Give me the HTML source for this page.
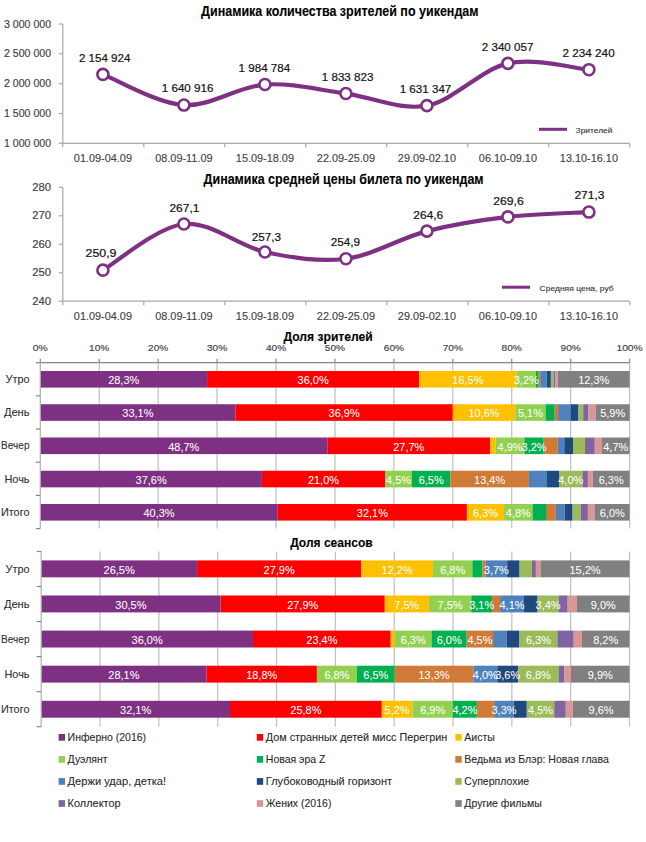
<!DOCTYPE html>
<html><head><meta charset="utf-8"><style>
html,body{margin:0;padding:0;background:#fff;}
body{width:646px;height:842px;overflow:hidden;}
svg{display:block;font-family:"Liberation Sans",sans-serif;}
</style></head><body>
<svg width="646" height="842" viewBox="0 0 646 842">
<rect width="646" height="842" fill="#FFFFFF"/>
<text x="339.80" y="16.10" font-size="14.0" text-anchor="middle" fill="#000000" font-weight="bold" textLength="277.5" lengthAdjust="spacingAndGlyphs" stroke="#000000" stroke-width="0.1">Динамика количества зрителей по уикендам</text>
<line x1="62.8" y1="24.0" x2="62.8" y2="143.3" stroke="#A8A8A8" stroke-width="1.2"/>
<line x1="58.8" y1="24.00" x2="62.8" y2="24.00" stroke="#A8A8A8" stroke-width="1.2"/>
<text x="51.00" y="27.50" font-size="10.1" text-anchor="end" fill="#404040" textLength="46.92" lengthAdjust="spacingAndGlyphs" stroke="#404040" stroke-width="0.15">3 000 000</text>
<line x1="58.8" y1="53.83" x2="62.8" y2="53.83" stroke="#A8A8A8" stroke-width="1.2"/>
<text x="51.00" y="57.33" font-size="10.1" text-anchor="end" fill="#404040" textLength="46.92" lengthAdjust="spacingAndGlyphs" stroke="#404040" stroke-width="0.15">2 500 000</text>
<line x1="58.8" y1="83.65" x2="62.8" y2="83.65" stroke="#A8A8A8" stroke-width="1.2"/>
<text x="51.00" y="87.15" font-size="10.1" text-anchor="end" fill="#404040" textLength="46.92" lengthAdjust="spacingAndGlyphs" stroke="#404040" stroke-width="0.15">2 000 000</text>
<line x1="58.8" y1="113.48" x2="62.8" y2="113.48" stroke="#A8A8A8" stroke-width="1.2"/>
<text x="51.00" y="116.98" font-size="10.1" text-anchor="end" fill="#404040" textLength="46.92" lengthAdjust="spacingAndGlyphs" stroke="#404040" stroke-width="0.15">1 500 000</text>
<line x1="58.8" y1="143.30" x2="62.8" y2="143.30" stroke="#A8A8A8" stroke-width="1.2"/>
<text x="51.00" y="146.80" font-size="10.1" text-anchor="end" fill="#404040" textLength="46.92" lengthAdjust="spacingAndGlyphs" stroke="#404040" stroke-width="0.15">1 000 000</text>
<line x1="62.8" y1="143.3" x2="629.8" y2="143.3" stroke="#A8A8A8" stroke-width="1.2"/>
<line x1="62.80" y1="143.3" x2="62.80" y2="147.3" stroke="#A8A8A8" stroke-width="1.2"/>
<line x1="143.80" y1="143.3" x2="143.80" y2="147.3" stroke="#A8A8A8" stroke-width="1.2"/>
<line x1="224.80" y1="143.3" x2="224.80" y2="147.3" stroke="#A8A8A8" stroke-width="1.2"/>
<line x1="305.80" y1="143.3" x2="305.80" y2="147.3" stroke="#A8A8A8" stroke-width="1.2"/>
<line x1="386.80" y1="143.3" x2="386.80" y2="147.3" stroke="#A8A8A8" stroke-width="1.2"/>
<line x1="467.80" y1="143.3" x2="467.80" y2="147.3" stroke="#A8A8A8" stroke-width="1.2"/>
<line x1="548.80" y1="143.3" x2="548.80" y2="147.3" stroke="#A8A8A8" stroke-width="1.2"/>
<line x1="629.80" y1="143.3" x2="629.80" y2="147.3" stroke="#A8A8A8" stroke-width="1.2"/>
<text x="102.90" y="162.10" font-size="10.9" text-anchor="middle" fill="#404040" stroke="#404040" stroke-width="0.12">01.09-04.09</text>
<text x="183.90" y="162.10" font-size="10.9" text-anchor="middle" fill="#404040" stroke="#404040" stroke-width="0.12">08.09-11.09</text>
<text x="264.90" y="162.10" font-size="10.9" text-anchor="middle" fill="#404040" stroke="#404040" stroke-width="0.12">15.09-18.09</text>
<text x="345.90" y="162.10" font-size="10.9" text-anchor="middle" fill="#404040" stroke="#404040" stroke-width="0.12">22.09-25.09</text>
<text x="426.90" y="162.10" font-size="10.9" text-anchor="middle" fill="#404040" stroke="#404040" stroke-width="0.12">29.09-02.10</text>
<text x="507.90" y="162.10" font-size="10.9" text-anchor="middle" fill="#404040" stroke="#404040" stroke-width="0.12">06.10-09.10</text>
<text x="588.90" y="162.10" font-size="10.9" text-anchor="middle" fill="#404040" stroke="#404040" stroke-width="0.12">13.10-16.10</text>
<path d="M102.90,74.41 C116.40,79.52 156.90,103.38 183.90,105.07 C210.90,106.76 237.90,86.48 264.90,84.56 C291.90,82.64 318.90,90.05 345.90,93.56 C372.90,97.08 399.90,110.67 426.90,105.64 C453.90,100.61 480.90,69.36 507.90,63.37 C534.90,57.37 575.40,68.63 588.90,69.68" fill="none" stroke="#7E3182" stroke-width="4.2" stroke-linecap="round"/>
<circle cx="102.90" cy="74.41" r="5.5" fill="#FFFFFF" stroke="#7E3182" stroke-width="2.6"/>
<circle cx="183.90" cy="105.07" r="5.5" fill="#FFFFFF" stroke="#7E3182" stroke-width="2.6"/>
<circle cx="264.90" cy="84.56" r="5.5" fill="#FFFFFF" stroke="#7E3182" stroke-width="2.6"/>
<circle cx="345.90" cy="93.56" r="5.5" fill="#FFFFFF" stroke="#7E3182" stroke-width="2.6"/>
<circle cx="426.90" cy="105.64" r="5.5" fill="#FFFFFF" stroke="#7E3182" stroke-width="2.6"/>
<circle cx="507.90" cy="63.37" r="5.5" fill="#FFFFFF" stroke="#7E3182" stroke-width="2.6"/>
<circle cx="588.90" cy="69.68" r="5.5" fill="#FFFFFF" stroke="#7E3182" stroke-width="2.6"/>
<text x="104.65" y="61.90" font-size="11.7" text-anchor="middle" fill="#111111" textLength="51.5" lengthAdjust="spacingAndGlyphs" stroke="#111111" stroke-width="0.2">2 154 924</text>
<text x="187.60" y="91.80" font-size="11.7" text-anchor="middle" fill="#111111" textLength="51.7" lengthAdjust="spacingAndGlyphs" stroke="#111111" stroke-width="0.2">1 640 916</text>
<text x="264.40" y="71.80" font-size="11.7" text-anchor="middle" fill="#111111" textLength="51.6" lengthAdjust="spacingAndGlyphs" stroke="#111111" stroke-width="0.2">1 984 784</text>
<text x="347.60" y="80.70" font-size="11.7" text-anchor="middle" fill="#111111" textLength="51.5" lengthAdjust="spacingAndGlyphs" stroke="#111111" stroke-width="0.2">1 833 823</text>
<text x="425.50" y="92.90" font-size="11.7" text-anchor="middle" fill="#111111" textLength="51.6" lengthAdjust="spacingAndGlyphs" stroke="#111111" stroke-width="0.2">1 631 347</text>
<text x="507.60" y="50.70" font-size="11.7" text-anchor="middle" fill="#111111" textLength="51.5" lengthAdjust="spacingAndGlyphs" stroke="#111111" stroke-width="0.2">2 340 057</text>
<text x="588.60" y="56.80" font-size="11.7" text-anchor="middle" fill="#111111" textLength="52.1" lengthAdjust="spacingAndGlyphs" stroke="#111111" stroke-width="0.2">2 234 240</text>
<line x1="539" y1="129.3" x2="567" y2="129.3" stroke="#7E3182" stroke-width="3.0"/>
<text x="575.60" y="132.90" font-size="7.8" text-anchor="start" fill="#333333" textLength="36.8" lengthAdjust="spacingAndGlyphs" stroke="#333333" stroke-width="0.12">Зрителей</text>
<text x="343.60" y="184.10" font-size="14.0" text-anchor="middle" fill="#000000" font-weight="bold" textLength="280" lengthAdjust="spacingAndGlyphs" stroke="#000000" stroke-width="0.1">Динамика средней цены билета по уикендам</text>
<line x1="62.8" y1="187.3" x2="62.8" y2="301.2" stroke="#A8A8A8" stroke-width="1.2"/>
<line x1="58.8" y1="187.30" x2="62.8" y2="187.30" stroke="#A8A8A8" stroke-width="1.2"/>
<text x="51.00" y="190.80" font-size="10.1" text-anchor="end" fill="#404040" textLength="18.85" lengthAdjust="spacingAndGlyphs" stroke="#404040" stroke-width="0.15">280</text>
<line x1="58.8" y1="215.78" x2="62.8" y2="215.78" stroke="#A8A8A8" stroke-width="1.2"/>
<text x="51.00" y="219.28" font-size="10.1" text-anchor="end" fill="#404040" textLength="18.85" lengthAdjust="spacingAndGlyphs" stroke="#404040" stroke-width="0.15">270</text>
<line x1="58.8" y1="244.25" x2="62.8" y2="244.25" stroke="#A8A8A8" stroke-width="1.2"/>
<text x="51.00" y="247.75" font-size="10.1" text-anchor="end" fill="#404040" textLength="18.85" lengthAdjust="spacingAndGlyphs" stroke="#404040" stroke-width="0.15">260</text>
<line x1="58.8" y1="272.73" x2="62.8" y2="272.73" stroke="#A8A8A8" stroke-width="1.2"/>
<text x="51.00" y="276.23" font-size="10.1" text-anchor="end" fill="#404040" textLength="18.85" lengthAdjust="spacingAndGlyphs" stroke="#404040" stroke-width="0.15">250</text>
<line x1="58.8" y1="301.20" x2="62.8" y2="301.20" stroke="#A8A8A8" stroke-width="1.2"/>
<text x="51.00" y="304.70" font-size="10.1" text-anchor="end" fill="#404040" textLength="18.85" lengthAdjust="spacingAndGlyphs" stroke="#404040" stroke-width="0.15">240</text>
<line x1="62.8" y1="301.2" x2="629.8" y2="301.2" stroke="#A8A8A8" stroke-width="1.2"/>
<line x1="62.80" y1="301.2" x2="62.80" y2="305.2" stroke="#A8A8A8" stroke-width="1.2"/>
<line x1="143.80" y1="301.2" x2="143.80" y2="305.2" stroke="#A8A8A8" stroke-width="1.2"/>
<line x1="224.80" y1="301.2" x2="224.80" y2="305.2" stroke="#A8A8A8" stroke-width="1.2"/>
<line x1="305.80" y1="301.2" x2="305.80" y2="305.2" stroke="#A8A8A8" stroke-width="1.2"/>
<line x1="386.80" y1="301.2" x2="386.80" y2="305.2" stroke="#A8A8A8" stroke-width="1.2"/>
<line x1="467.80" y1="301.2" x2="467.80" y2="305.2" stroke="#A8A8A8" stroke-width="1.2"/>
<line x1="548.80" y1="301.2" x2="548.80" y2="305.2" stroke="#A8A8A8" stroke-width="1.2"/>
<line x1="629.80" y1="301.2" x2="629.80" y2="305.2" stroke="#A8A8A8" stroke-width="1.2"/>
<text x="102.90" y="320.00" font-size="10.9" text-anchor="middle" fill="#404040" stroke="#404040" stroke-width="0.12">01.09-04.09</text>
<text x="183.90" y="320.00" font-size="10.9" text-anchor="middle" fill="#404040" stroke="#404040" stroke-width="0.12">08.09-11.09</text>
<text x="264.90" y="320.00" font-size="10.9" text-anchor="middle" fill="#404040" stroke="#404040" stroke-width="0.12">15.09-18.09</text>
<text x="345.90" y="320.00" font-size="10.9" text-anchor="middle" fill="#404040" stroke="#404040" stroke-width="0.12">22.09-25.09</text>
<text x="426.90" y="320.00" font-size="10.9" text-anchor="middle" fill="#404040" stroke="#404040" stroke-width="0.12">29.09-02.10</text>
<text x="507.90" y="320.00" font-size="10.9" text-anchor="middle" fill="#404040" stroke="#404040" stroke-width="0.12">06.10-09.10</text>
<text x="588.90" y="320.00" font-size="10.9" text-anchor="middle" fill="#404040" stroke="#404040" stroke-width="0.12">13.10-16.10</text>
<path d="M102.90,270.16 C116.40,262.47 156.90,227.07 183.90,224.03 C210.90,221.00 237.90,246.15 264.90,251.94 C291.90,257.73 318.90,262.24 345.90,258.77 C372.90,255.31 399.90,238.13 426.90,231.15 C453.90,224.18 480.90,220.09 507.90,216.91 C534.90,213.73 575.40,212.88 588.90,212.07" fill="none" stroke="#7E3182" stroke-width="4.2" stroke-linecap="round"/>
<circle cx="102.90" cy="270.16" r="5.5" fill="#FFFFFF" stroke="#7E3182" stroke-width="2.6"/>
<circle cx="183.90" cy="224.03" r="5.5" fill="#FFFFFF" stroke="#7E3182" stroke-width="2.6"/>
<circle cx="264.90" cy="251.94" r="5.5" fill="#FFFFFF" stroke="#7E3182" stroke-width="2.6"/>
<circle cx="345.90" cy="258.77" r="5.5" fill="#FFFFFF" stroke="#7E3182" stroke-width="2.6"/>
<circle cx="426.90" cy="231.15" r="5.5" fill="#FFFFFF" stroke="#7E3182" stroke-width="2.6"/>
<circle cx="507.90" cy="216.91" r="5.5" fill="#FFFFFF" stroke="#7E3182" stroke-width="2.6"/>
<circle cx="588.90" cy="212.07" r="5.5" fill="#FFFFFF" stroke="#7E3182" stroke-width="2.6"/>
<text x="101.00" y="257.20" font-size="11.7" text-anchor="middle" fill="#111111" textLength="31.0" lengthAdjust="spacingAndGlyphs" stroke="#111111" stroke-width="0.2">250,9</text>
<text x="184.40" y="211.70" font-size="11.7" text-anchor="middle" fill="#111111" textLength="30.0" lengthAdjust="spacingAndGlyphs" stroke="#111111" stroke-width="0.2">267,1</text>
<text x="266.40" y="240.60" font-size="11.7" text-anchor="middle" fill="#111111" textLength="29.4" lengthAdjust="spacingAndGlyphs" stroke="#111111" stroke-width="0.2">257,3</text>
<text x="345.30" y="245.80" font-size="11.7" text-anchor="middle" fill="#111111" textLength="29.3" lengthAdjust="spacingAndGlyphs" stroke="#111111" stroke-width="0.2">254,9</text>
<text x="428.30" y="219.00" font-size="11.7" text-anchor="middle" fill="#111111" textLength="29.9" lengthAdjust="spacingAndGlyphs" stroke="#111111" stroke-width="0.2">264,6</text>
<text x="508.50" y="205.00" font-size="11.7" text-anchor="middle" fill="#111111" textLength="30.5" lengthAdjust="spacingAndGlyphs" stroke="#111111" stroke-width="0.2">269,6</text>
<text x="589.40" y="198.60" font-size="11.7" text-anchor="middle" fill="#111111" textLength="30.0" lengthAdjust="spacingAndGlyphs" stroke="#111111" stroke-width="0.2">271,3</text>
<line x1="502" y1="287.2" x2="530" y2="287.2" stroke="#7E3182" stroke-width="3.0"/>
<text x="539.60" y="290.80" font-size="7.8" text-anchor="start" fill="#333333" textLength="74" lengthAdjust="spacingAndGlyphs" stroke="#333333" stroke-width="0.12">Средняя цена, руб</text>
<line x1="99.23" y1="362.7" x2="99.23" y2="528.6" stroke="#BFBFBF" stroke-width="1.2"/>
<line x1="158.16" y1="362.7" x2="158.16" y2="528.6" stroke="#BFBFBF" stroke-width="1.2"/>
<line x1="217.09" y1="362.7" x2="217.09" y2="528.6" stroke="#BFBFBF" stroke-width="1.2"/>
<line x1="276.02" y1="362.7" x2="276.02" y2="528.6" stroke="#BFBFBF" stroke-width="1.2"/>
<line x1="334.95" y1="362.7" x2="334.95" y2="528.6" stroke="#BFBFBF" stroke-width="1.2"/>
<line x1="393.88" y1="362.7" x2="393.88" y2="528.6" stroke="#BFBFBF" stroke-width="1.2"/>
<line x1="452.81" y1="362.7" x2="452.81" y2="528.6" stroke="#BFBFBF" stroke-width="1.2"/>
<line x1="511.74" y1="362.7" x2="511.74" y2="528.6" stroke="#BFBFBF" stroke-width="1.2"/>
<line x1="570.67" y1="362.7" x2="570.67" y2="528.6" stroke="#BFBFBF" stroke-width="1.2"/>
<line x1="629.60" y1="362.7" x2="629.60" y2="528.6" stroke="#BFBFBF" stroke-width="1.2"/>
<rect x="40.30" y="371.00" width="166.80" height="16.6" fill="#7E3182"/>
<rect x="207.10" y="371.00" width="212.10" height="16.6" fill="#FF0000"/>
<rect x="419.20" y="371.00" width="97.30" height="16.6" fill="#FFC000"/>
<rect x="516.50" y="371.00" width="19.50" height="16.6" fill="#92D050"/>
<rect x="536.00" y="371.00" width="2.60" height="16.6" fill="#00B050"/>
<rect x="538.60" y="371.00" width="1.60" height="16.6" fill="#D07A38"/>
<rect x="540.20" y="371.00" width="6.50" height="16.6" fill="#4F81BD"/>
<rect x="546.70" y="371.00" width="4.20" height="16.6" fill="#1F497D"/>
<rect x="550.90" y="371.00" width="2.70" height="16.6" fill="#9BBB59"/>
<rect x="553.60" y="371.00" width="1.90" height="16.6" fill="#8064A2"/>
<rect x="555.50" y="371.00" width="2.30" height="16.6" fill="#DA9694"/>
<rect x="557.80" y="371.00" width="71.80" height="16.6" fill="#808080"/>
<text x="123.70" y="384.20" font-size="10.4" text-anchor="middle" fill="#FFFFFF" textLength="31.11" lengthAdjust="spacingAndGlyphs" stroke="#FFFFFF" stroke-width="0.05">28,3%</text>
<text x="313.15" y="384.20" font-size="10.4" text-anchor="middle" fill="#FFFFFF" textLength="31.11" lengthAdjust="spacingAndGlyphs" stroke="#FFFFFF" stroke-width="0.05">36,0%</text>
<text x="467.85" y="384.20" font-size="10.4" text-anchor="middle" fill="#FFFFFF" textLength="31.11" lengthAdjust="spacingAndGlyphs" stroke="#FFFFFF" stroke-width="0.05">16,5%</text>
<text x="526.25" y="384.20" font-size="10.4" text-anchor="middle" fill="#FFFFFF" textLength="25.01" lengthAdjust="spacingAndGlyphs" stroke="#FFFFFF" stroke-width="0.05">3,2%</text>
<text x="593.70" y="384.20" font-size="10.4" text-anchor="middle" fill="#FFFFFF" textLength="31.11" lengthAdjust="spacingAndGlyphs" stroke="#FFFFFF" stroke-width="0.05">12,3%</text>
<rect x="40.30" y="404.25" width="195.10" height="16.6" fill="#7E3182"/>
<rect x="235.40" y="404.25" width="217.40" height="16.6" fill="#FF0000"/>
<rect x="452.80" y="404.25" width="62.50" height="16.6" fill="#FFC000"/>
<rect x="515.30" y="404.25" width="30.30" height="16.6" fill="#92D050"/>
<rect x="545.60" y="404.25" width="9.10" height="16.6" fill="#00B050"/>
<rect x="554.70" y="404.25" width="3.40" height="16.6" fill="#D07A38"/>
<rect x="558.10" y="404.25" width="12.50" height="16.6" fill="#4F81BD"/>
<rect x="570.60" y="404.25" width="7.90" height="16.6" fill="#1F497D"/>
<rect x="578.50" y="404.25" width="4.70" height="16.6" fill="#9BBB59"/>
<rect x="583.20" y="404.25" width="5.30" height="16.6" fill="#8064A2"/>
<rect x="588.50" y="404.25" width="7.20" height="16.6" fill="#DA9694"/>
<rect x="595.70" y="404.25" width="33.90" height="16.6" fill="#808080"/>
<text x="137.85" y="417.45" font-size="10.4" text-anchor="middle" fill="#FFFFFF" textLength="31.11" lengthAdjust="spacingAndGlyphs" stroke="#FFFFFF" stroke-width="0.05">33,1%</text>
<text x="344.10" y="417.45" font-size="10.4" text-anchor="middle" fill="#FFFFFF" textLength="31.11" lengthAdjust="spacingAndGlyphs" stroke="#FFFFFF" stroke-width="0.05">36,9%</text>
<text x="484.05" y="417.45" font-size="10.4" text-anchor="middle" fill="#FFFFFF" textLength="31.11" lengthAdjust="spacingAndGlyphs" stroke="#FFFFFF" stroke-width="0.05">10,6%</text>
<text x="530.45" y="417.45" font-size="10.4" text-anchor="middle" fill="#FFFFFF" textLength="25.01" lengthAdjust="spacingAndGlyphs" stroke="#FFFFFF" stroke-width="0.05">5,1%</text>
<text x="612.65" y="417.45" font-size="10.4" text-anchor="middle" fill="#FFFFFF" textLength="25.01" lengthAdjust="spacingAndGlyphs" stroke="#FFFFFF" stroke-width="0.05">5,9%</text>
<rect x="40.30" y="437.50" width="287.00" height="16.6" fill="#7E3182"/>
<rect x="327.30" y="437.50" width="162.90" height="16.6" fill="#FF0000"/>
<rect x="490.20" y="437.50" width="5.60" height="16.6" fill="#FFC000"/>
<rect x="495.80" y="437.50" width="28.60" height="16.6" fill="#92D050"/>
<rect x="524.40" y="437.50" width="19.30" height="16.6" fill="#00B050"/>
<rect x="543.70" y="437.50" width="14.10" height="16.6" fill="#D07A38"/>
<rect x="557.80" y="437.50" width="6.50" height="16.6" fill="#4F81BD"/>
<rect x="564.30" y="437.50" width="8.70" height="16.6" fill="#1F497D"/>
<rect x="573.00" y="437.50" width="12.00" height="16.6" fill="#9BBB59"/>
<rect x="585.00" y="437.50" width="9.80" height="16.6" fill="#8064A2"/>
<rect x="594.80" y="437.50" width="7.10" height="16.6" fill="#DA9694"/>
<rect x="601.90" y="437.50" width="27.70" height="16.6" fill="#808080"/>
<text x="183.80" y="450.70" font-size="10.4" text-anchor="middle" fill="#FFFFFF" textLength="31.11" lengthAdjust="spacingAndGlyphs" stroke="#FFFFFF" stroke-width="0.05">48,7%</text>
<text x="408.75" y="450.70" font-size="10.4" text-anchor="middle" fill="#FFFFFF" textLength="31.11" lengthAdjust="spacingAndGlyphs" stroke="#FFFFFF" stroke-width="0.05">27,7%</text>
<text x="510.10" y="450.70" font-size="10.4" text-anchor="middle" fill="#FFFFFF" textLength="25.01" lengthAdjust="spacingAndGlyphs" stroke="#FFFFFF" stroke-width="0.05">4,9%</text>
<text x="534.05" y="450.70" font-size="10.4" text-anchor="middle" fill="#FFFFFF" textLength="25.01" lengthAdjust="spacingAndGlyphs" stroke="#FFFFFF" stroke-width="0.05">3,2%</text>
<text x="615.75" y="450.70" font-size="10.4" text-anchor="middle" fill="#FFFFFF" textLength="25.01" lengthAdjust="spacingAndGlyphs" stroke="#FFFFFF" stroke-width="0.05">4,7%</text>
<rect x="40.30" y="470.75" width="221.60" height="16.6" fill="#7E3182"/>
<rect x="261.90" y="470.75" width="123.10" height="16.6" fill="#FF0000"/>
<rect x="385.00" y="470.75" width="27.00" height="16.6" fill="#92D050"/>
<rect x="412.00" y="470.75" width="38.30" height="16.6" fill="#00B050"/>
<rect x="450.30" y="470.75" width="78.60" height="16.6" fill="#D07A38"/>
<rect x="528.90" y="470.75" width="18.10" height="16.6" fill="#4F81BD"/>
<rect x="547.00" y="470.75" width="12.00" height="16.6" fill="#1F497D"/>
<rect x="559.00" y="470.75" width="23.50" height="16.6" fill="#9BBB59"/>
<rect x="582.50" y="470.75" width="5.40" height="16.6" fill="#8064A2"/>
<rect x="587.90" y="470.75" width="4.90" height="16.6" fill="#DA9694"/>
<rect x="592.80" y="470.75" width="36.80" height="16.6" fill="#808080"/>
<text x="151.10" y="483.95" font-size="10.4" text-anchor="middle" fill="#FFFFFF" textLength="31.11" lengthAdjust="spacingAndGlyphs" stroke="#FFFFFF" stroke-width="0.05">37,6%</text>
<text x="323.45" y="483.95" font-size="10.4" text-anchor="middle" fill="#FFFFFF" textLength="31.11" lengthAdjust="spacingAndGlyphs" stroke="#FFFFFF" stroke-width="0.05">21,0%</text>
<text x="398.50" y="483.95" font-size="10.4" text-anchor="middle" fill="#FFFFFF" textLength="25.01" lengthAdjust="spacingAndGlyphs" stroke="#FFFFFF" stroke-width="0.05">4,5%</text>
<text x="431.15" y="483.95" font-size="10.4" text-anchor="middle" fill="#FFFFFF" textLength="25.01" lengthAdjust="spacingAndGlyphs" stroke="#FFFFFF" stroke-width="0.05">6,5%</text>
<text x="489.60" y="483.95" font-size="10.4" text-anchor="middle" fill="#FFFFFF" textLength="31.11" lengthAdjust="spacingAndGlyphs" stroke="#FFFFFF" stroke-width="0.05">13,4%</text>
<text x="570.75" y="483.95" font-size="10.4" text-anchor="middle" fill="#FFFFFF" textLength="25.01" lengthAdjust="spacingAndGlyphs" stroke="#FFFFFF" stroke-width="0.05">4,0%</text>
<text x="611.20" y="483.95" font-size="10.4" text-anchor="middle" fill="#FFFFFF" textLength="25.01" lengthAdjust="spacingAndGlyphs" stroke="#FFFFFF" stroke-width="0.05">6,3%</text>
<rect x="40.30" y="504.00" width="237.50" height="16.6" fill="#7E3182"/>
<rect x="277.80" y="504.00" width="189.10" height="16.6" fill="#FF0000"/>
<rect x="466.90" y="504.00" width="37.20" height="16.6" fill="#FFC000"/>
<rect x="504.10" y="504.00" width="28.50" height="16.6" fill="#92D050"/>
<rect x="532.60" y="504.00" width="13.40" height="16.6" fill="#00B050"/>
<rect x="546.00" y="504.00" width="9.90" height="16.6" fill="#D07A38"/>
<rect x="555.90" y="504.00" width="8.90" height="16.6" fill="#4F81BD"/>
<rect x="564.80" y="504.00" width="7.80" height="16.6" fill="#1F497D"/>
<rect x="572.60" y="504.00" width="8.30" height="16.6" fill="#9BBB59"/>
<rect x="580.90" y="504.00" width="7.00" height="16.6" fill="#8064A2"/>
<rect x="587.90" y="504.00" width="7.00" height="16.6" fill="#DA9694"/>
<rect x="594.90" y="504.00" width="34.70" height="16.6" fill="#808080"/>
<text x="159.05" y="517.20" font-size="10.4" text-anchor="middle" fill="#FFFFFF" textLength="31.11" lengthAdjust="spacingAndGlyphs" stroke="#FFFFFF" stroke-width="0.05">40,3%</text>
<text x="372.35" y="517.20" font-size="10.4" text-anchor="middle" fill="#FFFFFF" textLength="31.11" lengthAdjust="spacingAndGlyphs" stroke="#FFFFFF" stroke-width="0.05">32,1%</text>
<text x="485.50" y="517.20" font-size="10.4" text-anchor="middle" fill="#FFFFFF" textLength="25.01" lengthAdjust="spacingAndGlyphs" stroke="#FFFFFF" stroke-width="0.05">6,3%</text>
<text x="518.35" y="517.20" font-size="10.4" text-anchor="middle" fill="#FFFFFF" textLength="25.01" lengthAdjust="spacingAndGlyphs" stroke="#FFFFFF" stroke-width="0.05">4,8%</text>
<text x="612.25" y="517.20" font-size="10.4" text-anchor="middle" fill="#FFFFFF" textLength="25.01" lengthAdjust="spacingAndGlyphs" stroke="#FFFFFF" stroke-width="0.05">6,0%</text>
<line x1="40.3" y1="362.7" x2="40.3" y2="528.6" stroke="#B0B0B0" stroke-width="1.2"/>
<line x1="35.8" y1="362.70" x2="40.3" y2="362.70" stroke="#868686" stroke-width="1.2"/>
<line x1="35.8" y1="395.88" x2="40.3" y2="395.88" stroke="#868686" stroke-width="1.2"/>
<line x1="35.8" y1="429.06" x2="40.3" y2="429.06" stroke="#868686" stroke-width="1.2"/>
<line x1="35.8" y1="462.24" x2="40.3" y2="462.24" stroke="#868686" stroke-width="1.2"/>
<line x1="35.8" y1="495.42" x2="40.3" y2="495.42" stroke="#868686" stroke-width="1.2"/>
<line x1="35.8" y1="528.60" x2="40.3" y2="528.60" stroke="#868686" stroke-width="1.2"/>
<text x="29.50" y="383.09" font-size="10.9" text-anchor="end" fill="#303030" stroke="#303030" stroke-width="0.1">Утро</text>
<text x="29.50" y="416.27" font-size="10.9" text-anchor="end" fill="#303030" textLength="25.6" lengthAdjust="spacingAndGlyphs" stroke="#303030" stroke-width="0.1">День</text>
<text x="29.50" y="449.45" font-size="10.9" text-anchor="end" fill="#303030" textLength="28.4" lengthAdjust="spacingAndGlyphs" stroke="#303030" stroke-width="0.1">Вечер</text>
<text x="29.50" y="482.63" font-size="10.9" text-anchor="end" fill="#303030" stroke="#303030" stroke-width="0.1">Ночь</text>
<text x="29.50" y="515.81" font-size="10.9" text-anchor="end" fill="#303030" textLength="28.6" lengthAdjust="spacingAndGlyphs" stroke="#303030" stroke-width="0.1">Итого</text>
<line x1="40.3" y1="362.7" x2="629.6" y2="362.7" stroke="#868686" stroke-width="1.2"/>
<line x1="40.30" y1="358.7" x2="40.30" y2="362.7" stroke="#868686" stroke-width="1.2"/>
<text x="40.30" y="351.00" font-size="9.6" text-anchor="middle" fill="#404040" textLength="14.9" lengthAdjust="spacingAndGlyphs" stroke="#404040" stroke-width="0.15">0%</text>
<line x1="99.23" y1="358.7" x2="99.23" y2="362.7" stroke="#868686" stroke-width="1.2"/>
<text x="99.23" y="351.00" font-size="9.6" text-anchor="middle" fill="#404040" textLength="20.2" lengthAdjust="spacingAndGlyphs" stroke="#404040" stroke-width="0.15">10%</text>
<line x1="158.16" y1="358.7" x2="158.16" y2="362.7" stroke="#868686" stroke-width="1.2"/>
<text x="158.16" y="351.00" font-size="9.6" text-anchor="middle" fill="#404040" textLength="20.2" lengthAdjust="spacingAndGlyphs" stroke="#404040" stroke-width="0.15">20%</text>
<line x1="217.09" y1="358.7" x2="217.09" y2="362.7" stroke="#868686" stroke-width="1.2"/>
<text x="217.09" y="351.00" font-size="9.6" text-anchor="middle" fill="#404040" textLength="20.2" lengthAdjust="spacingAndGlyphs" stroke="#404040" stroke-width="0.15">30%</text>
<line x1="276.02" y1="358.7" x2="276.02" y2="362.7" stroke="#868686" stroke-width="1.2"/>
<text x="276.02" y="351.00" font-size="9.6" text-anchor="middle" fill="#404040" textLength="20.2" lengthAdjust="spacingAndGlyphs" stroke="#404040" stroke-width="0.15">40%</text>
<line x1="334.95" y1="358.7" x2="334.95" y2="362.7" stroke="#868686" stroke-width="1.2"/>
<text x="334.95" y="351.00" font-size="9.6" text-anchor="middle" fill="#404040" textLength="20.2" lengthAdjust="spacingAndGlyphs" stroke="#404040" stroke-width="0.15">50%</text>
<line x1="393.88" y1="358.7" x2="393.88" y2="362.7" stroke="#868686" stroke-width="1.2"/>
<text x="393.88" y="351.00" font-size="9.6" text-anchor="middle" fill="#404040" textLength="20.2" lengthAdjust="spacingAndGlyphs" stroke="#404040" stroke-width="0.15">60%</text>
<line x1="452.81" y1="358.7" x2="452.81" y2="362.7" stroke="#868686" stroke-width="1.2"/>
<text x="452.81" y="351.00" font-size="9.6" text-anchor="middle" fill="#404040" textLength="20.2" lengthAdjust="spacingAndGlyphs" stroke="#404040" stroke-width="0.15">70%</text>
<line x1="511.74" y1="358.7" x2="511.74" y2="362.7" stroke="#868686" stroke-width="1.2"/>
<text x="511.74" y="351.00" font-size="9.6" text-anchor="middle" fill="#404040" textLength="20.2" lengthAdjust="spacingAndGlyphs" stroke="#404040" stroke-width="0.15">80%</text>
<line x1="570.67" y1="358.7" x2="570.67" y2="362.7" stroke="#868686" stroke-width="1.2"/>
<text x="570.67" y="351.00" font-size="9.6" text-anchor="middle" fill="#404040" textLength="20.2" lengthAdjust="spacingAndGlyphs" stroke="#404040" stroke-width="0.15">90%</text>
<line x1="629.60" y1="358.7" x2="629.60" y2="362.7" stroke="#868686" stroke-width="1.2"/>
<text x="629.60" y="351.00" font-size="9.6" text-anchor="middle" fill="#404040" textLength="26.3" lengthAdjust="spacingAndGlyphs" stroke="#404040" stroke-width="0.15">100%</text>
<text x="328.10" y="340.80" font-size="12.8" text-anchor="middle" fill="#000000" font-weight="bold" textLength="89.4" lengthAdjust="spacingAndGlyphs" stroke="#000000" stroke-width="0.1">Доля зрителей</text>
<line x1="100.03" y1="551.5" x2="100.03" y2="726.7" stroke="#BFBFBF" stroke-width="1.2"/>
<line x1="158.86" y1="551.5" x2="158.86" y2="726.7" stroke="#BFBFBF" stroke-width="1.2"/>
<line x1="217.69" y1="551.5" x2="217.69" y2="726.7" stroke="#BFBFBF" stroke-width="1.2"/>
<line x1="276.52" y1="551.5" x2="276.52" y2="726.7" stroke="#BFBFBF" stroke-width="1.2"/>
<line x1="335.35" y1="551.5" x2="335.35" y2="726.7" stroke="#BFBFBF" stroke-width="1.2"/>
<line x1="394.18" y1="551.5" x2="394.18" y2="726.7" stroke="#BFBFBF" stroke-width="1.2"/>
<line x1="453.01" y1="551.5" x2="453.01" y2="726.7" stroke="#BFBFBF" stroke-width="1.2"/>
<line x1="511.84" y1="551.5" x2="511.84" y2="726.7" stroke="#BFBFBF" stroke-width="1.2"/>
<line x1="570.67" y1="551.5" x2="570.67" y2="726.7" stroke="#BFBFBF" stroke-width="1.2"/>
<line x1="629.50" y1="551.5" x2="629.50" y2="726.7" stroke="#BFBFBF" stroke-width="1.2"/>
<rect x="41.20" y="560.40" width="155.90" height="16.9" fill="#7E3182"/>
<rect x="197.10" y="560.40" width="164.10" height="16.9" fill="#FF0000"/>
<rect x="361.20" y="560.40" width="71.80" height="16.9" fill="#FFC000"/>
<rect x="433.00" y="560.40" width="39.40" height="16.9" fill="#92D050"/>
<rect x="472.40" y="560.40" width="10.00" height="16.9" fill="#00B050"/>
<rect x="482.40" y="560.40" width="3.10" height="16.9" fill="#D07A38"/>
<rect x="485.50" y="560.40" width="21.70" height="16.9" fill="#4F81BD"/>
<rect x="507.20" y="560.40" width="12.40" height="16.9" fill="#1F497D"/>
<rect x="519.60" y="560.40" width="12.40" height="16.9" fill="#9BBB59"/>
<rect x="532.00" y="560.40" width="3.90" height="16.9" fill="#8064A2"/>
<rect x="535.90" y="560.40" width="4.60" height="16.9" fill="#DA9694"/>
<rect x="540.50" y="560.40" width="89.00" height="16.9" fill="#808080"/>
<text x="119.15" y="573.75" font-size="10.4" text-anchor="middle" fill="#FFFFFF" textLength="31.11" lengthAdjust="spacingAndGlyphs" stroke="#FFFFFF" stroke-width="0.05">26,5%</text>
<text x="279.15" y="573.75" font-size="10.4" text-anchor="middle" fill="#FFFFFF" textLength="31.11" lengthAdjust="spacingAndGlyphs" stroke="#FFFFFF" stroke-width="0.05">27,9%</text>
<text x="397.10" y="573.75" font-size="10.4" text-anchor="middle" fill="#FFFFFF" textLength="31.11" lengthAdjust="spacingAndGlyphs" stroke="#FFFFFF" stroke-width="0.05">12,2%</text>
<text x="452.70" y="573.75" font-size="10.4" text-anchor="middle" fill="#FFFFFF" textLength="25.01" lengthAdjust="spacingAndGlyphs" stroke="#FFFFFF" stroke-width="0.05">6,8%</text>
<text x="496.35" y="573.75" font-size="10.4" text-anchor="middle" fill="#FFFFFF" textLength="25.01" lengthAdjust="spacingAndGlyphs" stroke="#FFFFFF" stroke-width="0.05">3,7%</text>
<text x="585.00" y="573.75" font-size="10.4" text-anchor="middle" fill="#FFFFFF" textLength="31.11" lengthAdjust="spacingAndGlyphs" stroke="#FFFFFF" stroke-width="0.05">15,2%</text>
<rect x="41.20" y="595.50" width="179.40" height="16.9" fill="#7E3182"/>
<rect x="220.60" y="595.50" width="164.20" height="16.9" fill="#FF0000"/>
<rect x="384.80" y="595.50" width="44.10" height="16.9" fill="#FFC000"/>
<rect x="428.90" y="595.50" width="42.40" height="16.9" fill="#92D050"/>
<rect x="471.30" y="595.50" width="20.80" height="16.9" fill="#00B050"/>
<rect x="492.10" y="595.50" width="8.00" height="16.9" fill="#D07A38"/>
<rect x="500.10" y="595.50" width="23.80" height="16.9" fill="#4F81BD"/>
<rect x="523.90" y="595.50" width="13.70" height="16.9" fill="#1F497D"/>
<rect x="537.60" y="595.50" width="21.00" height="16.9" fill="#9BBB59"/>
<rect x="558.60" y="595.50" width="9.10" height="16.9" fill="#8064A2"/>
<rect x="567.70" y="595.50" width="9.30" height="16.9" fill="#DA9694"/>
<rect x="577.00" y="595.50" width="52.50" height="16.9" fill="#808080"/>
<text x="130.90" y="608.85" font-size="10.4" text-anchor="middle" fill="#FFFFFF" textLength="31.11" lengthAdjust="spacingAndGlyphs" stroke="#FFFFFF" stroke-width="0.05">30,5%</text>
<text x="302.70" y="608.85" font-size="10.4" text-anchor="middle" fill="#FFFFFF" textLength="31.11" lengthAdjust="spacingAndGlyphs" stroke="#FFFFFF" stroke-width="0.05">27,9%</text>
<text x="406.85" y="608.85" font-size="10.4" text-anchor="middle" fill="#FFFFFF" textLength="25.01" lengthAdjust="spacingAndGlyphs" stroke="#FFFFFF" stroke-width="0.05">7,5%</text>
<text x="450.10" y="608.85" font-size="10.4" text-anchor="middle" fill="#FFFFFF" textLength="25.01" lengthAdjust="spacingAndGlyphs" stroke="#FFFFFF" stroke-width="0.05">7,5%</text>
<text x="481.70" y="608.85" font-size="10.4" text-anchor="middle" fill="#FFFFFF" textLength="25.01" lengthAdjust="spacingAndGlyphs" stroke="#FFFFFF" stroke-width="0.05">3,1%</text>
<text x="512.00" y="608.85" font-size="10.4" text-anchor="middle" fill="#FFFFFF" textLength="25.01" lengthAdjust="spacingAndGlyphs" stroke="#FFFFFF" stroke-width="0.05">4,1%</text>
<text x="548.10" y="608.85" font-size="10.4" text-anchor="middle" fill="#FFFFFF" textLength="25.01" lengthAdjust="spacingAndGlyphs" stroke="#FFFFFF" stroke-width="0.05">3,4%</text>
<text x="603.25" y="608.85" font-size="10.4" text-anchor="middle" fill="#FFFFFF" textLength="25.01" lengthAdjust="spacingAndGlyphs" stroke="#FFFFFF" stroke-width="0.05">9,0%</text>
<rect x="41.20" y="630.60" width="211.80" height="16.9" fill="#7E3182"/>
<rect x="253.00" y="630.60" width="137.70" height="16.9" fill="#FF0000"/>
<rect x="390.70" y="630.60" width="4.00" height="16.9" fill="#FFC000"/>
<rect x="394.70" y="630.60" width="36.90" height="16.9" fill="#92D050"/>
<rect x="431.60" y="630.60" width="35.10" height="16.9" fill="#00B050"/>
<rect x="466.70" y="630.60" width="26.40" height="16.9" fill="#D07A38"/>
<rect x="493.10" y="630.60" width="13.70" height="16.9" fill="#4F81BD"/>
<rect x="506.80" y="630.60" width="12.70" height="16.9" fill="#1F497D"/>
<rect x="519.50" y="630.60" width="37.90" height="16.9" fill="#9BBB59"/>
<rect x="557.40" y="630.60" width="16.30" height="16.9" fill="#8064A2"/>
<rect x="573.70" y="630.60" width="8.20" height="16.9" fill="#DA9694"/>
<rect x="581.90" y="630.60" width="47.60" height="16.9" fill="#808080"/>
<text x="147.10" y="643.95" font-size="10.4" text-anchor="middle" fill="#FFFFFF" textLength="31.11" lengthAdjust="spacingAndGlyphs" stroke="#FFFFFF" stroke-width="0.05">36,0%</text>
<text x="321.85" y="643.95" font-size="10.4" text-anchor="middle" fill="#FFFFFF" textLength="31.11" lengthAdjust="spacingAndGlyphs" stroke="#FFFFFF" stroke-width="0.05">23,4%</text>
<text x="413.15" y="643.95" font-size="10.4" text-anchor="middle" fill="#FFFFFF" textLength="25.01" lengthAdjust="spacingAndGlyphs" stroke="#FFFFFF" stroke-width="0.05">6,3%</text>
<text x="449.15" y="643.95" font-size="10.4" text-anchor="middle" fill="#FFFFFF" textLength="25.01" lengthAdjust="spacingAndGlyphs" stroke="#FFFFFF" stroke-width="0.05">6,0%</text>
<text x="479.90" y="643.95" font-size="10.4" text-anchor="middle" fill="#FFFFFF" textLength="25.01" lengthAdjust="spacingAndGlyphs" stroke="#FFFFFF" stroke-width="0.05">4,5%</text>
<text x="538.45" y="643.95" font-size="10.4" text-anchor="middle" fill="#FFFFFF" textLength="25.01" lengthAdjust="spacingAndGlyphs" stroke="#FFFFFF" stroke-width="0.05">6,3%</text>
<text x="605.70" y="643.95" font-size="10.4" text-anchor="middle" fill="#FFFFFF" textLength="25.01" lengthAdjust="spacingAndGlyphs" stroke="#FFFFFF" stroke-width="0.05">8,2%</text>
<rect x="41.20" y="665.70" width="165.30" height="16.9" fill="#7E3182"/>
<rect x="206.50" y="665.70" width="110.40" height="16.9" fill="#FF0000"/>
<rect x="316.90" y="665.70" width="40.10" height="16.9" fill="#92D050"/>
<rect x="357.00" y="665.70" width="37.70" height="16.9" fill="#00B050"/>
<rect x="394.70" y="665.70" width="78.70" height="16.9" fill="#D07A38"/>
<rect x="473.40" y="665.70" width="23.90" height="16.9" fill="#4F81BD"/>
<rect x="497.30" y="665.70" width="20.80" height="16.9" fill="#1F497D"/>
<rect x="518.10" y="665.70" width="40.50" height="16.9" fill="#9BBB59"/>
<rect x="558.60" y="665.70" width="5.90" height="16.9" fill="#8064A2"/>
<rect x="564.50" y="665.70" width="6.50" height="16.9" fill="#DA9694"/>
<rect x="571.00" y="665.70" width="58.50" height="16.9" fill="#808080"/>
<text x="123.85" y="679.05" font-size="10.4" text-anchor="middle" fill="#FFFFFF" textLength="31.11" lengthAdjust="spacingAndGlyphs" stroke="#FFFFFF" stroke-width="0.05">28,1%</text>
<text x="261.70" y="679.05" font-size="10.4" text-anchor="middle" fill="#FFFFFF" textLength="31.11" lengthAdjust="spacingAndGlyphs" stroke="#FFFFFF" stroke-width="0.05">18,8%</text>
<text x="336.95" y="679.05" font-size="10.4" text-anchor="middle" fill="#FFFFFF" textLength="25.01" lengthAdjust="spacingAndGlyphs" stroke="#FFFFFF" stroke-width="0.05">6,8%</text>
<text x="375.85" y="679.05" font-size="10.4" text-anchor="middle" fill="#FFFFFF" textLength="25.01" lengthAdjust="spacingAndGlyphs" stroke="#FFFFFF" stroke-width="0.05">6,5%</text>
<text x="434.05" y="679.05" font-size="10.4" text-anchor="middle" fill="#FFFFFF" textLength="31.11" lengthAdjust="spacingAndGlyphs" stroke="#FFFFFF" stroke-width="0.05">13,3%</text>
<text x="485.35" y="679.05" font-size="10.4" text-anchor="middle" fill="#FFFFFF" textLength="25.01" lengthAdjust="spacingAndGlyphs" stroke="#FFFFFF" stroke-width="0.05">4,0%</text>
<text x="507.70" y="679.05" font-size="10.4" text-anchor="middle" fill="#FFFFFF" textLength="25.01" lengthAdjust="spacingAndGlyphs" stroke="#FFFFFF" stroke-width="0.05">3,6%</text>
<text x="538.35" y="679.05" font-size="10.4" text-anchor="middle" fill="#FFFFFF" textLength="25.01" lengthAdjust="spacingAndGlyphs" stroke="#FFFFFF" stroke-width="0.05">6,8%</text>
<text x="600.25" y="679.05" font-size="10.4" text-anchor="middle" fill="#FFFFFF" textLength="25.01" lengthAdjust="spacingAndGlyphs" stroke="#FFFFFF" stroke-width="0.05">9,9%</text>
<rect x="41.20" y="700.80" width="188.80" height="16.9" fill="#7E3182"/>
<rect x="230.00" y="700.80" width="151.80" height="16.9" fill="#FF0000"/>
<rect x="381.80" y="700.80" width="30.60" height="16.9" fill="#FFC000"/>
<rect x="412.40" y="700.80" width="40.60" height="16.9" fill="#92D050"/>
<rect x="453.00" y="700.80" width="23.90" height="16.9" fill="#00B050"/>
<rect x="476.90" y="700.80" width="17.30" height="16.9" fill="#D07A38"/>
<rect x="494.20" y="700.80" width="19.60" height="16.9" fill="#4F81BD"/>
<rect x="513.80" y="700.80" width="13.00" height="16.9" fill="#1F497D"/>
<rect x="526.80" y="700.80" width="27.50" height="16.9" fill="#9BBB59"/>
<rect x="554.30" y="700.80" width="11.50" height="16.9" fill="#8064A2"/>
<rect x="565.80" y="700.80" width="6.90" height="16.9" fill="#DA9694"/>
<rect x="572.70" y="700.80" width="56.80" height="16.9" fill="#808080"/>
<text x="135.60" y="714.15" font-size="10.4" text-anchor="middle" fill="#FFFFFF" textLength="31.11" lengthAdjust="spacingAndGlyphs" stroke="#FFFFFF" stroke-width="0.05">32,1%</text>
<text x="305.90" y="714.15" font-size="10.4" text-anchor="middle" fill="#FFFFFF" textLength="31.11" lengthAdjust="spacingAndGlyphs" stroke="#FFFFFF" stroke-width="0.05">25,8%</text>
<text x="397.10" y="714.15" font-size="10.4" text-anchor="middle" fill="#FFFFFF" textLength="25.01" lengthAdjust="spacingAndGlyphs" stroke="#FFFFFF" stroke-width="0.05">5,2%</text>
<text x="432.70" y="714.15" font-size="10.4" text-anchor="middle" fill="#FFFFFF" textLength="25.01" lengthAdjust="spacingAndGlyphs" stroke="#FFFFFF" stroke-width="0.05">6,9%</text>
<text x="464.95" y="714.15" font-size="10.4" text-anchor="middle" fill="#FFFFFF" textLength="25.01" lengthAdjust="spacingAndGlyphs" stroke="#FFFFFF" stroke-width="0.05">4,2%</text>
<text x="504.00" y="714.15" font-size="10.4" text-anchor="middle" fill="#FFFFFF" textLength="25.01" lengthAdjust="spacingAndGlyphs" stroke="#FFFFFF" stroke-width="0.05">3,3%</text>
<text x="540.55" y="714.15" font-size="10.4" text-anchor="middle" fill="#FFFFFF" textLength="25.01" lengthAdjust="spacingAndGlyphs" stroke="#FFFFFF" stroke-width="0.05">4,5%</text>
<text x="601.10" y="714.15" font-size="10.4" text-anchor="middle" fill="#FFFFFF" textLength="25.01" lengthAdjust="spacingAndGlyphs" stroke="#FFFFFF" stroke-width="0.05">9,6%</text>
<line x1="41.2" y1="551.5" x2="41.2" y2="726.7" stroke="#B0B0B0" stroke-width="1.2"/>
<line x1="36.7" y1="551.50" x2="41.2" y2="551.50" stroke="#868686" stroke-width="1.2"/>
<line x1="36.7" y1="586.54" x2="41.2" y2="586.54" stroke="#868686" stroke-width="1.2"/>
<line x1="36.7" y1="621.58" x2="41.2" y2="621.58" stroke="#868686" stroke-width="1.2"/>
<line x1="36.7" y1="656.62" x2="41.2" y2="656.62" stroke="#868686" stroke-width="1.2"/>
<line x1="36.7" y1="691.66" x2="41.2" y2="691.66" stroke="#868686" stroke-width="1.2"/>
<line x1="36.7" y1="726.70" x2="41.2" y2="726.70" stroke="#868686" stroke-width="1.2"/>
<text x="29.50" y="572.82" font-size="10.9" text-anchor="end" fill="#303030" stroke="#303030" stroke-width="0.1">Утро</text>
<text x="29.50" y="607.86" font-size="10.9" text-anchor="end" fill="#303030" textLength="25.6" lengthAdjust="spacingAndGlyphs" stroke="#303030" stroke-width="0.1">День</text>
<text x="29.50" y="642.90" font-size="10.9" text-anchor="end" fill="#303030" textLength="28.4" lengthAdjust="spacingAndGlyphs" stroke="#303030" stroke-width="0.1">Вечер</text>
<text x="29.50" y="677.94" font-size="10.9" text-anchor="end" fill="#303030" stroke="#303030" stroke-width="0.1">Ночь</text>
<text x="29.50" y="712.98" font-size="10.9" text-anchor="end" fill="#303030" textLength="28.6" lengthAdjust="spacingAndGlyphs" stroke="#303030" stroke-width="0.1">Итого</text>
<text x="331.40" y="547.20" font-size="12.8" text-anchor="middle" fill="#000000" font-weight="bold" textLength="82.5" lengthAdjust="spacingAndGlyphs" stroke="#000000" stroke-width="0.1">Доля сеансов</text>
<rect x="58.6" y="734.00" width="6.4" height="6.7" fill="#7E3182"/>
<text x="67.60" y="741.00" font-size="10.5" text-anchor="start" fill="#262626" textLength="78.5" lengthAdjust="spacingAndGlyphs" stroke="#262626" stroke-width="0.08">Инферно (2016)</text>
<rect x="256.8" y="734.00" width="6.4" height="6.7" fill="#FF0000"/>
<text x="265.80" y="741.00" font-size="10.5" text-anchor="start" fill="#262626" textLength="181.5" lengthAdjust="spacingAndGlyphs" stroke="#262626" stroke-width="0.08">Дом странных детей мисс Перегрин</text>
<rect x="455.3" y="734.00" width="6.4" height="6.7" fill="#FFC000"/>
<text x="464.30" y="741.00" font-size="10.5" text-anchor="start" fill="#262626" textLength="30.5" lengthAdjust="spacingAndGlyphs" stroke="#262626" stroke-width="0.08">Аисты</text>
<rect x="58.6" y="756.05" width="6.4" height="6.7" fill="#92D050"/>
<text x="67.60" y="763.05" font-size="10.5" text-anchor="start" fill="#262626" textLength="40" lengthAdjust="spacingAndGlyphs" stroke="#262626" stroke-width="0.08">Дуэлянт</text>
<rect x="256.8" y="756.05" width="6.4" height="6.7" fill="#00B050"/>
<text x="265.80" y="763.05" font-size="10.5" text-anchor="start" fill="#262626" stroke="#262626" stroke-width="0.08">Новая эра Z</text>
<rect x="455.3" y="756.05" width="6.4" height="6.7" fill="#D07A38"/>
<text x="464.30" y="763.05" font-size="10.5" text-anchor="start" fill="#262626" textLength="144.5" lengthAdjust="spacingAndGlyphs" stroke="#262626" stroke-width="0.08">Ведьма из Блэр: Новая глава</text>
<rect x="58.6" y="778.10" width="6.4" height="6.7" fill="#4F81BD"/>
<text x="67.60" y="785.10" font-size="10.5" text-anchor="start" fill="#262626" textLength="98.5" lengthAdjust="spacingAndGlyphs" stroke="#262626" stroke-width="0.08">Держи удар, детка!</text>
<rect x="256.8" y="778.10" width="6.4" height="6.7" fill="#1F497D"/>
<text x="265.80" y="785.10" font-size="10.5" text-anchor="start" fill="#262626" textLength="126.3" lengthAdjust="spacingAndGlyphs" stroke="#262626" stroke-width="0.08">Глубоководный горизонт</text>
<rect x="455.3" y="778.10" width="6.4" height="6.7" fill="#9BBB59"/>
<text x="464.30" y="785.10" font-size="10.5" text-anchor="start" fill="#262626" stroke="#262626" stroke-width="0.08">Суперплохие</text>
<rect x="58.6" y="800.15" width="6.4" height="6.7" fill="#8064A2"/>
<text x="67.60" y="807.15" font-size="10.5" text-anchor="start" fill="#262626" textLength="53" lengthAdjust="spacingAndGlyphs" stroke="#262626" stroke-width="0.08">Коллектор</text>
<rect x="256.8" y="800.15" width="6.4" height="6.7" fill="#DA9694"/>
<text x="265.80" y="807.15" font-size="10.5" text-anchor="start" fill="#262626" stroke="#262626" stroke-width="0.08">Жених (2016)</text>
<rect x="455.3" y="800.15" width="6.4" height="6.7" fill="#808080"/>
<text x="464.30" y="807.15" font-size="10.5" text-anchor="start" fill="#262626" stroke="#262626" stroke-width="0.08">Другие фильмы</text>
</svg>
</body></html>
